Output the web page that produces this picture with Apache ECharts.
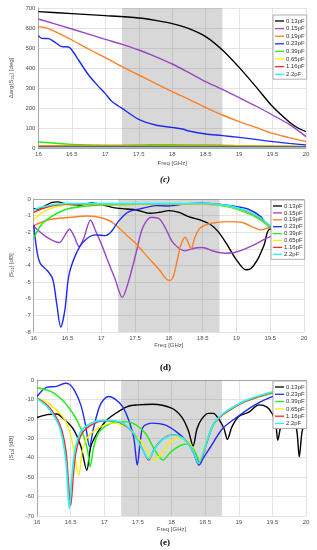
<!DOCTYPE html>
<html><head><meta charset="utf-8">
<script src="https://cdn.jsdelivr.net/npm/echarts@6/dist/echarts.min.js"></script>
<style>html,body{margin:0;padding:0;background:#fff}#m{width:317px;height:550px}</style>
</head><body><div id="m"></div>
<script>
// ---------- labels ----------
const namesC = ['0.13pF','0.15pF','0.19pF','0.23pF','0.39pF','0.65pF','1.16pF','2.2pF'];
const namesE = ['0.13pF','0.23pF','0.39pF','0.65pF','1.16pF','2.2pF'];
const bandStart = 17.25, bandEnd = 18.75;

// ---------- (c) delta arg(S21) [deg] ----------
const c013_f = [16,16.5,17,17.5,17.75,18,18.25,18.5,18.75,19,19.25,19.5,19.75,19.88,20];
const c013_v = [682,672,662,650,638,622,597,557,490,403,307,207,130,100,82];
const c015_f = [16,16.5,17,17.25,17.5,17.75,18,18.25,18.5,18.75,19,19.25,19.5,19.75,20];
const c015_v = [645,595,543,518,490,457,420,377,332,293,252,210,165,118,57];
const c019_f = [16,16.1,16.25,16.5,16.75,17,17.25,17.5,17.75,18,18.25,18.5,18.75,19,19.25,19.5,19.75,20];
const c019_v = [607,602,582,540,495,452,407,365,323,282,243,203,165,132,103,73,52,32];
const c023_f = [16,16.05,16.15,16.25,16.35,16.45,16.5,16.6,16.75,16.9,17,17.1,17.25,17.5,17.75,18,18.15,18.25,18.5,18.75,19,19.25,19.5,19.75,20];
const c023_v = [562,548,547,528,507,505,490,440,365,307,272,232,198,143,115,103,95,85,70,62,53,43,32,23,15];
const cLow_f = [16,16.5,17,17.5,18,18.5,19,19.5,20];
const c039_v = [30,18,14,15,17,15,12,9,6];
const c065_v = [12,11,10,10,11,11,10,9,8];
const c116_v = [9,9,9,9,9,9,8,8,7];
const c22_v  = [2,2,2,2,2,2,2,2,2];

// ---------- (d) |S21| [dB] ----------
const d013_f = [16,16.06,16.15,16.26,16.35,16.5,16.69,16.86,17.03,17.18,17.37,17.52,17.71,17.86,18.0,18.15,18.29,18.49,18.61,18.73,18.88,19.0,19.14,19.21,19.31,19.41,19.5,20];
const d013_v = [-0.56,-0.62,-0.45,-0.22,-0.17,-0.32,-0.36,-0.24,-0.36,-0.52,-0.6,-0.66,-0.86,-0.8,-0.7,-0.8,-1.06,-1.3,-1.52,-1.96,-2.86,-3.66,-4.26,-4.2,-3.66,-2.76,-1.8,-1.9];
const d015_f = [16,16.18,16.38,16.45,16.53,16.6,16.67,16.74,16.84,16.91,17.0,17.1,17.2,17.31,17.4,17.52,17.61,17.74,17.86,17.95,18.05,18.15,18.24,18.37,18.49,18.68,18.83,18.97,19.26,19.5,20];
const d015_v = [-1.64,-2.26,-2.62,-2.26,-1.82,-2.26,-2.86,-2.36,-1.26,-1.86,-2.7,-3.76,-4.76,-5.92,-5.0,-3.16,-1.76,-1.1,-1.2,-1.76,-2.56,-2.96,-3.12,-2.96,-2.92,-3.16,-3.26,-3.22,-2.76,-2.26,-1.8];
const d019_f = [16,16.21,16.55,16.79,17.03,17.18,17.37,17.52,17.71,17.86,17.95,18.01,18.06,18.12,18.17,18.24,18.28,18.33,18.38,18.46,18.63,18.88,19.07,19.26,19.36,19.46,19.5,20];
const d019_v = [-1.6,-1.26,-1.1,-1.02,-1.16,-1.46,-2.16,-2.72,-3.6,-4.26,-4.76,-4.9,-4.72,-3.76,-2.86,-2.3,-2.56,-3.0,-2.36,-1.76,-1.46,-1.36,-1.4,-1.72,-1.86,-1.75,-1.72,-1.9];
const d023_f = [16,16.05,16.1,16.2,16.28,16.34,16.4,16.46,16.52,16.62,16.74,16.91,17.06,17.15,17.25,17.37,17.45,17.61,17.81,18.0,18.24,18.49,18.73,18.97,19.17,19.36,19.5,20];
const d023_v = [-1.56,-3.2,-3.9,-4.3,-4.8,-6.3,-7.7,-6.7,-4.6,-3.36,-2.56,-2.16,-2.2,-1.96,-1.36,-0.86,-0.7,-0.56,-0.4,-0.42,-0.3,-0.26,-0.32,-0.44,-0.6,-1.06,-1.72,-2.4];
const dHi_f = [16,16.11,16.26,16.45,16.69,17.03,17.5,18,18.5,18.88,19.17,19.36,19.5,20];
const d039_v = [-2.36,-1.56,-1.06,-0.66,-0.46,-0.36,-0.32,-0.3,-0.3,-0.46,-0.86,-1.26,-1.7,-2.65];
const d065_v = [-1.26,-0.86,-0.56,-0.38,-0.32,-0.3,-0.3,-0.3,-0.3,-0.42,-0.8,-1.2,-1.65,-2.6];
const d116_v = [-0.8,-0.6,-0.42,-0.32,-0.3,-0.28,-0.28,-0.28,-0.28,-0.4,-0.78,-1.18,-1.62,-2.6];
const d22_v  = [-0.66,-0.5,-0.36,-0.28,-0.27,-0.27,-0.27,-0.27,-0.27,-0.4,-0.75,-1.15,-1.6,-2.6];

// ---------- (e) |S11| [dB] ----------
const e013_f = [16,16.15,16.3,16.38,16.53,16.65,16.74,16.8,16.9,17.0,17.1,17.35,17.5,17.72,18.0,18.15,18.25,18.32,18.38,18.45,18.55,18.62,18.7,18.78,18.83,18.9,19.0,19.15,19.3,19.42,19.5,19.55,19.58,19.63,19.7,19.78,19.84,19.87,19.9,19.94,20];
const e013_v = [-19.3,-17.8,-17.5,-19.6,-24.8,-34,-46.5,-34,-27,-22,-18.8,-13.6,-12.8,-12.5,-14.5,-19,-26,-34,-25,-20,-17.2,-17.2,-20,-25,-30.5,-24,-18.8,-16.5,-12.8,-14,-17.5,-22.5,-31,-23,-18,-18.5,-22,-28,-39.5,-27,-18];
const e023_f = [16,16.14,16.29,16.42,16.48,16.55,16.65,16.72,16.78,16.84,16.94,17.06,17.15,17.27,17.37,17.44,17.49,17.54,17.58,17.71,17.9,18.07,18.23,18.33,18.41,18.47,18.57,18.76,18.95,19.24,19.48,19.72,20];
const e023_v = [-8.5,-3.8,-3.3,-1.7,-2.2,-5.0,-12.8,-23,-34.3,-24.8,-12.8,-8.5,-9.6,-13.6,-21.4,-30,-43.8,-30,-24,-22.2,-23.1,-26.6,-31.7,-37.7,-43.8,-40.3,-35,-25,-19.7,-12.8,-8.8,-5.9,-4.5];
const e039_f = [16,16.25,16.48,16.65,16.75,16.79,16.84,16.91,17.06,17.22,17.42,17.61,17.75,17.87,17.99,18.14,18.26,18.35,18.42,18.5,18.62,18.76,18.91,19.1,19.5,19.75,20];
const e039_v = [-4,-6.7,-14.5,-24.8,-36,-44.7,-35,-27.4,-22.8,-21.4,-22.2,-27.4,-36,-41.2,-37,-33.6,-32.8,-37,-42,-34,-23,-17.9,-14.5,-11,-6.8,-5.6,-5];
const e065_f = [16,16.17,16.38,16.48,16.55,16.62,16.67,16.74,16.91,17.1,17.32,17.51,17.63,17.75,17.87,17.99,18.14,18.28,18.4,18.5,18.62,18.76,18.91,19.1,19.5,19.75,20];
const e065_v = [-9.3,-11.9,-18.8,-25.7,-36.9,-49,-36.9,-30,-24.8,-22.2,-24,-30,-36,-41.2,-37,-31.7,-29.7,-33,-42,-34,-23,-17.9,-14.5,-11,-6.6,-5.6,-5];
const e116_f = [16,16.17,16.34,16.43,16.5,16.54,16.58,16.67,16.82,17.01,17.22,17.42,17.56,17.66,17.75,17.9,18.04,18.16,18.26,18.35,18.41,18.5,18.62,18.76,18.91,19.1,19.5,19.75,20];
const e116_v = [-9.3,-13.6,-23.1,-36.9,-64.5,-49,-36.9,-27.4,-22.8,-21,-21.8,-26.8,-35,-41.2,-35,-29.5,-28.3,-29.5,-33.2,-38.4,-42.5,-35,-23,-17.9,-14.5,-11,-6.4,-5.5,-5];
const e22_f = [16,16.17,16.34,16.43,16.48,16.52,16.56,16.65,16.8,16.97,17.22,17.42,17.56,17.66,17.75,17.9,18.04,18.16,18.26,18.35,18.4,18.47,18.62,18.76,18.91,19.1,19.5,19.75,20];
const e22_v = [-9.6,-14.5,-24.8,-42,-66.2,-49,-37,-26.5,-22.2,-20.8,-21.4,-26.6,-35.2,-40.7,-35.2,-29.7,-28.3,-29.7,-33.4,-38.6,-42.9,-37.7,-22.8,-17.5,-14,-10.6,-6.2,-5.3,-4.8];

// ---------- styling ----------
const col = {'0.13pF':'#000000','0.15pF':'#9a45c6','0.19pF':'#ff7f22','0.23pF':'#1f2cf0',
             '0.39pF':'#22ee22','0.65pF':'#f2f200','1.16pF':'#ff2626','2.2pF':'#22f5f5'};
const FONT = 'Liberation Sans';
const zip = (f, v) => f.map((x, i) => [x, v[i]]);

function line(name, f, v, gi, w) {
  return {type:'line', name, xAxisIndex:gi, yAxisIndex:gi, data:zip(f, v),
    showSymbol:false, symbol:'none', smooth:0.3, animation:false,
    lineStyle:{color:col[name], width:w}, itemStyle:{color:col[name]}};
}
function band(gi) {
  return {type:'line', name:'band'+gi, xAxisIndex:gi, yAxisIndex:gi, data:[], silent:true, animation:false,
    markArea:{silent:true, itemStyle:{color:'rgba(110,110,110,0.27)'}, data:[[{xAxis:bandStart},{xAxis:bandEnd}]]}};
}
const gridDefs = [
  {left:29, top:8, width:277, height:140},
  {left:29, top:199, width:275, height:133},
  {left:28, top:380, width:278, height:136}
];
const yDefs = [
  {min:0, max:700, interval:100, name:'Δarg(S{s|21}) [deg]'},
  {min:-8, max:0, interval:1, name:'|S{s|21}| [dB]'},
  {min:-70, max:0, interval:10, name:'|S{s|11}| [dB]'}
];
const xNameGap = [12, 8, 6];
const axisLbl = {fontFamily:FONT, fontSize:6, color:'#505050'};
const xAxes = gridDefs.map((g, i) => ({type:'value', gridIndex:i, min:16, max:20, interval:0.5,
  name:'Freq [GHz]', nameLocation:'middle', nameGap:xNameGap[i],
  nameTextStyle:{fontFamily:FONT, fontSize:6, color:'#505050'},
  axisLine:{show:true, lineStyle:{color:'#9a9a9a', width:0.8}}, axisTick:{show:false},
  axisLabel:Object.assign({margin:3}, axisLbl),
  splitLine:{show:true, lineStyle:{color:'#dddddd', width:0.8}}}));
const yAxes = yDefs.map((d, i) => ({type:'value', gridIndex:i, min:d.min, max:d.max, interval:d.interval,
  name:d.name, nameLocation:'middle', nameGap:18,
  nameTextStyle:{fontFamily:FONT, fontSize:6, color:'#505050', rich:{s:{fontFamily:FONT, fontSize:4.3, color:'#505050', padding:[3,0,0,0]}}},
  axisLine:{show:true, lineStyle:{color:'#9a9a9a', width:0.8}}, axisTick:{show:false},
  axisLabel:Object.assign({margin:3}, axisLbl),
  splitLine:{show:true, lineStyle:{color:'#dddddd', width:0.8}}}));

const W = 1.4;
const series = [band(0), band(1), band(2)];
series.push(line('0.13pF', c013_f, c013_v, 0, W));
series.push(line('0.15pF', c015_f, c015_v, 0, W));
series.push(line('0.19pF', c019_f, c019_v, 0, W));
series.push(line('0.23pF', c023_f, c023_v, 0, W));
series.push(line('0.39pF', cLow_f, c039_v, 0, W));
series.push(line('0.65pF', cLow_f, c065_v, 0, W));
series.push(line('1.16pF', cLow_f, c116_v, 0, W));
series.push(line('2.2pF',  cLow_f, c22_v, 0, W));

series.push(line('0.13pF', d013_f, d013_v, 1, W));
series.push(line('0.15pF', d015_f, d015_v, 1, W));
series.push(line('0.19pF', d019_f, d019_v, 1, W));
series.push(line('0.23pF', d023_f, d023_v, 1, W));
series.push(line('0.39pF', dHi_f, d039_v, 1, 1.6));
series.push(line('0.65pF', dHi_f, d065_v, 1, W));
series.push(line('1.16pF', dHi_f, d116_v, 1, W));
series.push(line('2.2pF',  dHi_f, d22_v, 1, 1.6));

series.push(line('0.13pF', e013_f, e013_v, 2, W));
series.push(line('0.23pF', e023_f, e023_v, 2, W));
series.push(line('0.39pF', e039_f, e039_v, 2, 1.5));
series.push(line('0.65pF', e065_f, e065_v, 2, W));
series.push(line('1.16pF', e116_f, e116_v, 2, 1.5));
series.push(line('2.2pF',  e22_f, e22_v, 2, 1.7));

function legend(data, left, top, gap) {
  return {data, left, top, orient:'vertical', icon:'rect', itemWidth:9, itemHeight:1.3, itemGap:gap,
    padding:[3,2,2,2], backgroundColor:'#ffffff', borderColor:'#9a9a9a', borderWidth:0.8,
    selectedMode:false, z:10,
    textStyle:{fontFamily:FONT, fontSize:6, color:'#333', lineHeight:6, padding:[0,0,0,-3]}};
}

const titleStyle = {fontFamily:'Liberation Serif', fontWeight:'bold', fontSize:9, fill:'#000'};
const chart = echarts.init(document.getElementById('m'), null, {renderer:'canvas'});
chart.setOption({
  animation:false,
  grid:gridDefs,
  xAxis:xAxes,
  yAxis:yAxes,
  legend:[legend(namesC, 273, 15, 1.6), legend(namesC, 271, 200, 0.9), legend(namesE, 273, 381, 1.3)],
  series,
  graphic:[
    {type:'text', left:160, top:175, style:Object.assign({text:'(c)', fontStyle:'italic'}, titleStyle)},
    {type:'text', left:160, top:363, style:Object.assign({text:'(d)'}, titleStyle)},
    {type:'text', left:160, top:538, style:Object.assign({text:'(e)'}, titleStyle)}
  ]
});
</script></body></html>
